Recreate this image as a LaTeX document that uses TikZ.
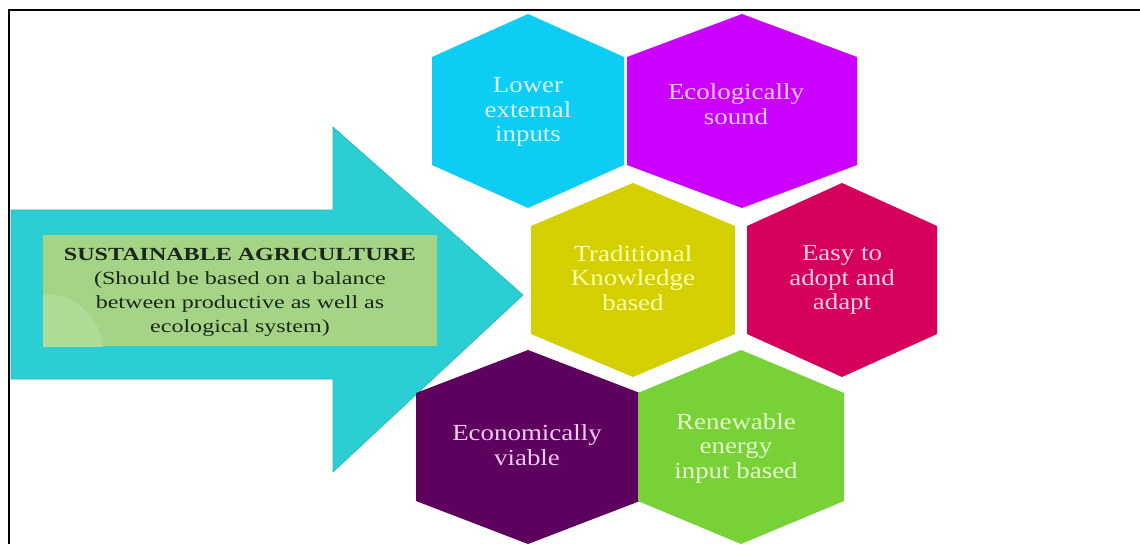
\documentclass[tikz,border=0pt]{standalone}
\usepackage{fontspec}
\newfontfamily\hexfont[FakeStretch=1.17]{Liberation Serif}
\newfontfamily\boxfont[FakeStretch=1.3]{Liberation Serif}
\definecolor{arrowc}{RGB}{43,207,211}
\definecolor{arrowedge}{RGB}{40,180,185}
\definecolor{boxc}{RGB}{165,212,135}
\definecolor{boxlight}{RGB}{176,219,150}
\definecolor{boxtext}{RGB}{25,40,25}
\definecolor{hcyan}{RGB}{13,205,245}
\definecolor{hmag}{RGB}{204,0,255}
\definecolor{hyel}{RGB}{212,208,0}
\definecolor{hcrim}{RGB}{214,0,92}
\definecolor{hpur}{RGB}{94,0,94}
\definecolor{hgrn}{RGB}{120,210,55}
\definecolor{tcyan}{RGB}{215,245,255}
\definecolor{tmag}{RGB}{250,205,255}
\definecolor{tyel}{RGB}{255,255,170}
\definecolor{tcrim}{RGB}{255,205,232}
\definecolor{tpur}{RGB}{238,205,242}
\definecolor{tgrn}{RGB}{228,252,205}
\newcommand{\hexpath}[4]{% cx cy hw color
  \fill[#4] (#1,#2-97) -- (#1+#3,#2-54) -- (#1+#3,#2+54) -- (#1,#2+97)
    -- (#1-#3,#2+54) -- (#1-#3,#2-54) -- cycle;}
\tikzset{
  hextext/.style={align=center, font=\hexfont\fontsize{23}{24.5}\selectfont, inner sep=0pt},
  boxtextstyle/.style={align=center, font=\boxfont\fontsize{18.5}{24}\selectfont, text=boxtext, inner sep=0pt},
  framestyle/.style={line width=2.5pt, draw=black}
}
\begin{document}
\begin{tikzpicture}[x=1pt,y=-1pt]
\useasboundingbox (0,0) rectangle (1140,544);
\fill[white] (0,0) rectangle (1140,544);
% frame
\draw[framestyle] (9,544) -- (9,10) -- (1140,10);
% arrow
\filldraw[fill=arrowc, draw=arrowedge, line width=0.6pt]
  (11,210) -- (333,210) -- (333,127) -- (523,295) -- (333,472) -- (333,379) -- (11,379) -- cycle;
% box
\fill[boxc] (43,235) rectangle (437,346);
\begin{scope}
  \clip (43,235) rectangle (437,346);
  \fill[boxlight] (45,352) circle (58);
\end{scope}
\node[boxtextstyle] (sa) at (240,292) {\textbf{SUSTAINABLE AGRICULTURE}\\(Should be based on a balance\\between productive as well as\\ecological system)};
% hexagons
\hexpath{528}{111}{96}{hcyan}
\hexpath{742}{111}{115}{hmag}
\hexpath{633}{280}{102}{hyel}
\hexpath{842}{280}{95}{hcrim}
\hexpath{528}{447}{112}{hpur}
\hexpath{741}{447}{103}{hgrn}
\node[hextext, text=tcyan] (lei) at (528,112) {Lower\\external\\inputs};
\node[hextext, text=tmag] (eco) at (736,104) {Ecologically\\sound};
\node[hextext, text=tyel] (tkb) at (633,278) {Traditional\\Knowledge\\based};
\node[hextext, text=tcrim] (eta) at (842,280) {Easy to\\adopt and\\adapt};
\node[hextext, text=tpur] (ecv) at (527,445) {Economically\\viable};
\node[hextext, text=tgrn] (reb) at (736,448) {Renewable\\energy\\input based};
\end{tikzpicture}
\end{document}
